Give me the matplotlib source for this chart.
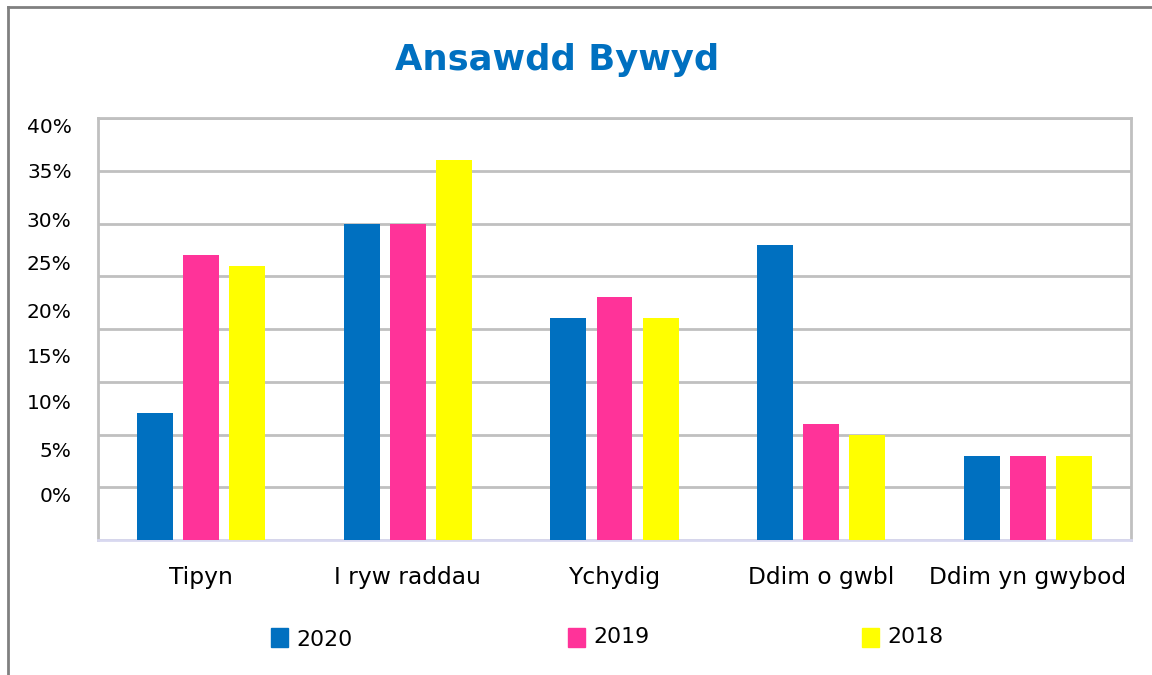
import matplotlib.pyplot as plt
import numpy as np
from matplotlib.lines import Line2D

categories = ["Tipyn", "I ryw raddau", "Ychydig", "Ddim o gwbl", "Ddim yn gwybod"]
years = ["2020", "2019", "2018"]
vals_2020 = [12, 30, 21, 28, 8]
vals_2019 = [27, 30, 23, 11, 8]
vals_2018 = [26, 36, 21, 10, 8]
colors = ["#0070C0", "#FF3399", "#FFFF00"]

# gridlines and the (shifted) y labels as they appear in the source
grid_vals = [0, 5, 10, 15, 20, 25, 30, 35, 40]
ytick_labels = ["0%", "5%", "10%", "15%", "20%", "25%", "30%", "35%", "40%"]
ytick_pos = [4.3, 8.6, 13.1, 17.5, 21.8, 26.3, 30.4, 35.0, 39.3]

plt.rcParams['font.family'] = ['DejaVu Sans']

fig = plt.figure(figsize=(11.52, 6.75), dpi=100)
W, H = 1152, 675
ax = fig.add_axes([98 / W, 1 - 540 / H, (1131 - 98) / W, (540 - 118) / H])

x = np.arange(len(categories))
bw = 0.174
step = 0.223
for i, vals in enumerate([vals_2020, vals_2019, vals_2018]):
    ax.bar(x + (i - 1) * step, vals, width=bw, color=colors[i], zorder=3)

ax.set_xlim(-0.5, len(categories) - 0.5)
ax.set_ylim(0, 40)

ax.yaxis.remove_overlapping_locs = False
ax.set_yticks(grid_vals)
ax.set_yticklabels([])
ax.yaxis.grid(True, color="#c0c0c0", linewidth=2, zorder=0)
ax.set_yticks(ytick_pos, minor=True)
ax.set_yticklabels(ytick_labels, minor=True, fontsize=14.5)
ax.tick_params(axis="y", which="both", length=0, pad=19)

ax.set_xticks(x)
ax.set_xticklabels(categories, fontsize=16.8)
ax.tick_params(axis="x", length=0, pad=19)

for s in ["left", "right", "top"]:
    ax.spines[s].set_color("#c0c0c0")
    ax.spines[s].set_linewidth(2)
ax.spines["bottom"].set_color("#d8d8f0")
ax.spines["bottom"].set_linewidth(2)

fig.text(557 / W, 1 - 60 / H, "Ansawdd Bywyd", ha="center", va="center",
         fontsize=25.5, fontweight="bold", color="#0070C0")

# legend entries
leg_x = [271, 568, 862]
for i, yr in enumerate(years):
    fig.patches.append(plt.Rectangle((leg_x[i] / W, 1 - 647 / H), 17 / W, 19 / H,
                                     color=colors[i], transform=fig.transFigure))
    fig.text((leg_x[i] + 25) / W, 1 - (640 if i == 0 else 637) / H, yr,
             ha="left", va="center", fontsize=15.8)

# outer frame (top and left only visible)
fig.lines.append(Line2D([8 / W, 8 / W], [0, 1 - 7 / H], color="#808080", lw=2,
                        transform=fig.transFigure))
fig.lines.append(Line2D([8 / W, 1], [1 - 7 / H, 1 - 7 / H], color="#808080", lw=2,
                        transform=fig.transFigure))

fig.savefig("out.png", dpi=100)
